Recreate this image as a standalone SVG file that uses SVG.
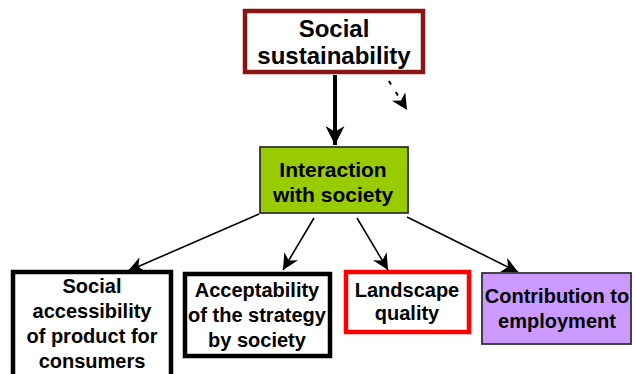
<svg xmlns="http://www.w3.org/2000/svg" width="635" height="374" viewBox="0 0 635 374">
<style>
text{font-family:"Liberation Sans",Arial,sans-serif;font-weight:bold;fill:#000;text-anchor:middle}
.b{font-size:20px}
.c{stroke:#000;stroke-width:1.6;fill:none}
</style>
<defs>
<marker id="ah2" viewBox="0 0 10 10" refX="10" refY="5" markerWidth="18" markerHeight="16" markerUnits="userSpaceOnUse" orient="auto">
<path d="M0,0 L10,5 L0,10 L3,5 z" fill="#000"/>
</marker>
<marker id="ah3" viewBox="0 0 10 10" refX="10" refY="5" markerWidth="19" markerHeight="20" markerUnits="userSpaceOnUse" orient="auto">
<path d="M0,0 L10,5 L0,10 L3,5 z" fill="#000"/>
</marker>
</defs>
<rect width="635" height="374" fill="#fff"/>
<g id="connectors">
<line x1="335" y1="75" x2="335" y2="145" stroke="#000" stroke-width="4" marker-end="url(#ah3)"/>
<line x1="382" y1="70" x2="407" y2="110" stroke="#000" stroke-width="2" stroke-dasharray="4,9" marker-end="url(#ah2)"/>
<line class="c" x1="259" y1="214" x2="128" y2="271" marker-end="url(#ah2)"/>
<line class="c" x1="314" y1="218" x2="283" y2="270" marker-end="url(#ah2)"/>
<line class="c" x1="357" y1="218" x2="388" y2="270" marker-end="url(#ah2)"/>
<line class="c" x1="407" y1="217" x2="518" y2="272" marker-end="url(#ah2)"/>
</g>
<g id="social-sustainability">
<rect x="245" y="11" width="178" height="61" fill="#fff" stroke="#8B1515" stroke-width="4.5"/>
<text x="334" y="37" style="font-size:24px">Social</text>
<text x="334" y="64" style="font-size:24px">sustainability</text>
</g>
<g id="interaction">
<rect x="260" y="147" width="148" height="66" fill="#99CC00" stroke="#333" stroke-width="1.8"/>
<text x="333" y="177" style="font-size:21px">Interaction</text>
<text x="333" y="202" style="font-size:21px">with society</text>
</g>
<g id="social-accessibility">
<rect x="13" y="272" width="158" height="110" fill="#fff" stroke="#000" stroke-width="4.5"/>
<text class="b" x="92" y="293">Social</text>
<text class="b" x="92" y="318">accessibility</text>
<text class="b" x="92" y="343">of product for</text>
<text class="b" x="92" y="368">consumers</text>
</g>
<g id="acceptability">
<rect x="185" y="274" width="145" height="82" fill="#fff" stroke="#000" stroke-width="4.5"/>
<text class="b" x="257" y="297">Acceptability</text>
<text class="b" x="257" y="322">of the strategy</text>
<text class="b" x="257" y="347">by society</text>
</g>
<g id="landscape">
<rect x="346" y="272" width="123" height="60" fill="#fff" stroke="#FF0000" stroke-width="4.5"/>
<text class="b" x="407" y="297">Landscape</text>
<text class="b" x="407" y="320">quality</text>
</g>
<g id="contribution">
<rect x="482" y="273" width="149" height="71" fill="#CC99FF" stroke="#333" stroke-width="1.8"/>
<text class="b" x="557" y="303">Contribution to</text>
<text class="b" x="557" y="328">employment</text>
</g>
</svg>
